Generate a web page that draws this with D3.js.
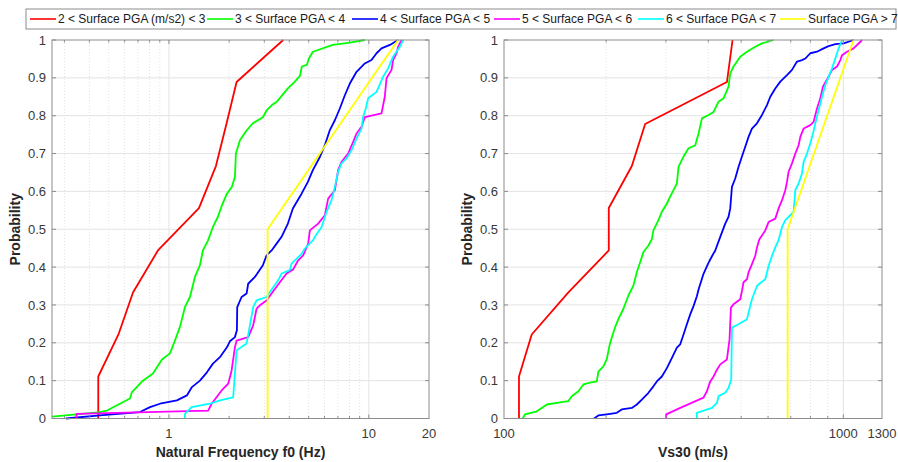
<!DOCTYPE html>
<html>
<head>
<meta charset="utf-8">
<script src="https://cdn.jsdelivr.net/npm/d3@7"></script>
<style>
body { margin: 0; background: #fff; }
text { font-family: "Liberation Sans", Arial, sans-serif; }
</style>
</head>
<body>
<script>
// Legend labels and colours
var seriesNames = ["2 < Surface PGA (m/s2) < 3", "3 < Surface PGA < 4", "4 < Surface PGA < 5",
                   "5 < Surface PGA < 6", "6 < Surface PGA < 7", "Surface PGA > 7"];
var seriesColors = ["#ff0000", "#00ff00", "#0000ff", "#ff00ff", "#00ffff", "#ffff00"];

var probTicks = [0, 0.1, 0.2, 0.3, 0.4, 0.5, 0.6, 0.7, 0.8, 0.9, 1];
var f0Ticks = [1, 10, 20];
var vsTicks = [100, 1000, 1300];

// Natural frequency f0 (Hz) vs cumulative probability
var f0Red = [[0.443,0],[0.443,0.111],[0.559,0.222],[0.661,0.333],[0.881,0.444],[1.413,0.556],
             [1.718,0.667],[1.939,0.778],[2.18,0.889],[3.73,1]];
var f0Green = [[0.26,0.005],[0.442,0.016],[0.49,0.021],[0.638,0.053],[0.653,0.07],[0.741,0.1],
               [0.832,0.119],[0.923,0.156],[1.012,0.172],[1.072,0.206],[1.135,0.242],[1.202,0.294],
               [1.274,0.321],[1.349,0.374],[1.429,0.405],[1.479,0.444],[1.567,0.47],[1.66,0.506],
               [1.758,0.533],[1.841,0.563],[1.95,0.594],[2.065,0.612],[2.138,0.638],[2.163,0.7],
               [2.265,0.735],[2.455,0.762],[2.63,0.78],[2.951,0.796],[3.09,0.815],[3.273,0.828],
               [3.467,0.837],[3.936,0.872],[4.266,0.89],[4.519,0.905],[4.624,0.93],[4.898,0.934],
               [5.012,0.951],[5.248,0.969],[6.607,0.987],[8.035,0.993],[9.55,1]];
var f0Blue = [[0.305,0],[0.452,0.008],[0.716,0.017],[0.804,0.03],[0.902,0.039],[1.096,0.048],
              [1.23,0.061],[1.303,0.083],[1.429,0.1],[1.549,0.122],[1.66,0.145],[1.799,0.162],
              [1.95,0.188],[2.018,0.204],[2.138,0.215],[2.188,0.233],[2.196,0.294],[2.309,0.321],
              [2.446,0.33],[2.491,0.356],[2.692,0.374],[2.951,0.405],[3.08,0.431],[3.262,0.444],
              [3.456,0.462],[3.66,0.48],[3.936,0.515],[4.169,0.555],[4.608,0.594],[4.955,0.625],
              [5.248,0.656],[5.689,0.691],[6.026,0.722],[6.383,0.762],[6.761,0.788],[7.161,0.819],
              [7.586,0.854],[8.035,0.885],[8.68,0.916],[9.55,0.938],[10.31,0.947],[10.93,0.965],
              [11.57,0.978],[12.74,0.987],[14.01,1]];
var f0Magenta = [[0.345,0],[0.345,0.012],[1.572,0.021],[1.635,0.039],[1.835,0.074],[1.98,0.092],
                 [2.059,0.127],[2.138,0.188],[2.18,0.206],[2.491,0.215],[2.639,0.246],[2.744,0.29],
                 [2.851,0.299],[3.08,0.312],[3.323,0.336],[3.589,0.36],[3.877,0.383],[4.183,0.394],
                 [4.431,0.418],[4.694,0.431],[4.973,0.462],[5.07,0.497],[5.578,0.515],[6.026,0.537],
                 [6.259,0.581],[6.761,0.603],[7.022,0.656],[7.303,0.678],[7.88,0.7],[8.348,0.731],
                 [8.68,0.753],[9.194,0.771],[9.55,0.796],[11.57,0.806],[12.02,0.85],[12.26,0.899],
                 [12.99,0.921],[13.23,0.947],[13.76,0.965],[14.01,0.982],[14.57,1]];
var f0Cyan = [[1.202,0],[1.202,0.012],[1.299,0.03],[1.603,0.039],[1.799,0.048],[2.096,0.056],
              [2.18,0.18],[2.446,0.198],[2.639,0.294],[2.744,0.312],[3.08,0.321],[3.199,0.334],
              [3.52,0.365],[3.66,0.383],[4.027,0.392],[4.107,0.409],[4.608,0.435],[4.786,0.449],
              [4.973,0.458],[5.268,0.471],[5.37,0.48],[5.803,0.506],[6.145,0.546],[6.509,0.577],
              [6.761,0.612],[7.022,0.652],[7.303,0.674],[7.736,0.687],[8.194,0.709],[8.68,0.74],
              [9.194,0.766],[9.365,0.797],[9.66,0.819],[9.92,0.846],[10.93,0.863],[11.79,0.903],
              [12.49,0.925],[13.23,0.956],[14.29,0.982],[14.85,1]];
var f0Yellow = [[3.115,0],[3.115,0.5],[14.01,1]];

// Vs30 (m/s) vs cumulative probability
var vsRed = [[110.7,0],[110.7,0.111],[120.7,0.222],[154.8,0.333],[203.6,0.444],[203.6,0.556],
             [238.1,0.667],[260.6,0.778],[453.9,0.889],[471.6,1]];
var vsGreen = [[113.5,0],[115.3,0.011],[124.9,0.019],[129.2,0.028],[133.7,0.037],[143,0.041],
               [154.8,0.046],[158.4,0.059],[165.7,0.072],[171.4,0.09],[179.4,0.095],[187.7,0.098],
               [189.7,0.124],[196.3,0.138],[200.9,0.157],[204.5,0.192],[207.8,0.214],[212.5,0.241],
               [217.4,0.263],[224.9,0.29],[232.6,0.325],[240.6,0.351],[246.3,0.387],[251.9,0.413],
               [257.6,0.44],[266.5,0.457],[272.7,0.474],[275.6,0.497],[285.2,0.524],[291.9,0.546],
               [302,0.568],[308.8,0.586],[323.2,0.621],[326.8,0.665],[338.1,0.692],[349.8,0.714],
               [366.1,0.722],[374.4,0.753],[383.1,0.793],[400.7,0.802],[414.5,0.81],[428.8,0.837],
               [443.6,0.846],[458.9,0.877],[464.2,0.912],[474.7,0.93],[496.8,0.956],[520,0.969],
               [550.1,0.982],[575.8,0.991],[622.7,1]];
var vsBlue = [[184.3,0],[189.7,0.008],[200.9,0.011],[215,0.015],[222.4,0.024],[238.1,0.028],
              [246.3,0.037],[254.8,0.05],[266.5,0.068],[275.6,0.085],[282.1,0.098],[291.9,0.111],
              [302,0.133],[312.5,0.16],[323.2,0.187],[330.6,0.196],[338.1,0.222],[345.9,0.249],
              [353.8,0.275],[361.8,0.297],[370.2,0.323],[374.4,0.341],[386.4,0.38],[399.8,0.41],
              [410.8,0.43],[419.3,0.444],[433.8,0.48],[448.7,0.515],[458.9,0.533],[464.2,0.555],
              [469.6,0.612],[480.2,0.634],[491.2,0.665],[502.6,0.692],[514,0.718],[525.6,0.744],
              [537.9,0.766],[556.5,0.78],[575.8,0.802],[595.6,0.828],[609.2,0.85],[630.1,0.872],
              [651.9,0.89],[682.2,0.907],[705.9,0.921],[730.2,0.943],[755.3,0.947],[772.4,0.951],
              [799.2,0.965],[836.3,0.969],[874.7,0.978],[904.9,0.984],[947.1,0.989],[1002,0.991],
              [1072,1]];
var vsMagenta = [[300.6,0],[300.6,0.011],[330.6,0.028],[387.2,0.055],[396.2,0.072],[405.3,0.098],
                 [414.5,0.111],[424.1,0.129],[433.8,0.143],[453.9,0.156],[462,0.209],[466.4,0.293],
                 [474.7,0.302],[496.8,0.315],[502.6,0.337],[508,0.36],[520,0.368],[525.6,0.386],
                 [537.9,0.408],[550.1,0.43],[556.5,0.452],[565.3,0.473],[588.8,0.497],[602.1,0.519],
                 [630.1,0.528],[644.4,0.555],[659.6,0.577],[674.5,0.603],[682.2,0.625],[689.7,0.652],
                 [705.9,0.674],[721.8,0.7],[738.2,0.722],[746.8,0.744],[763.7,0.766],[799.2,0.775],
                 [817.3,0.784],[836.3,0.819],[855.4,0.846],[871.1,0.877],[904.9,0.903],[926.2,0.921],
                 [958.1,0.93],[979.9,0.947],[991.3,0.96],[1025,0.969],[1072,0.978],[1136,1]];
var vsCyan = [[370.2,0],[370.2,0.015],[410,0.028],[424.1,0.041],[428.8,0.059],[448.7,0.068],
              [458.9,0.081],[467.3,0.103],[469.6,0.24],[491.2,0.249],[520,0.262],[525.6,0.28],
              [537.9,0.315],[556.5,0.35],[569.2,0.358],[588.8,0.368],[602.1,0.403],[616.3,0.43],
              [630.1,0.452],[644.4,0.471],[659.6,0.506],[674.5,0.524],[697.8,0.537],[713.6,0.546],
              [721.8,0.603],[738.2,0.621],[755.3,0.647],[763.7,0.678],[781.5,0.7],[799.2,0.727],
              [814,0.753],[826.8,0.78],[845.5,0.815],[865.5,0.85],[885,0.881],[904.9,0.903],
              [926.2,0.925],[947.1,0.951],[968.5,0.978],[991.3,1]];
var vsYellow = [[685.1,0],[685.1,0.5],[1072,1]];

var f0Series = [f0Red, f0Green, f0Blue, f0Magenta, f0Cyan, f0Yellow];
var vsSeries = [vsRed, vsGreen, vsBlue, vsMagenta, vsCyan, vsYellow];

var svgWidth = 898, svgHeight = 462;
var svg = d3.select("body").append("svg")
            .attr("width", svgWidth)
            .attr("height", svgHeight);

var plotTop = 40, plotBottom = 418.5;
var axisColor = "#8c8c8c", gridColor = "#e3e3e3", textColor = "#383838";

function minorValues(domain) {
    var out = [];
    var lo = Math.floor(Math.log10(domain[0])), hi = Math.ceil(Math.log10(domain[1]));
    for (var e = lo; e <= hi; e++) {
        for (var m = 1; m <= 9; m++) {
            var v = m * Math.pow(10, e);
            if (v > domain[0] * 1.0001 && v < domain[1] * 0.9999) out.push(v);
        }
    }
    return out;
}

function isDecade(v) {
    var l = Math.log10(v);
    return Math.abs(l - Math.round(l)) < 1e-6;
}

function drawPanel(left, right, domain, ticks, series, xTitle, yTitleX) {
    var x = d3.scaleLog().domain(domain).range([left, right]);
    var y = d3.scaleLinear().domain([0, 1]).range([plotBottom, plotTop]);
    var g = svg.append("g");
    var minors = minorValues(domain);

    // grid
    g.selectAll(".minor").data(minors.filter(v => !isDecade(v)))
     .enter().append("line")
     .attr("x1", d => x(d)).attr("x2", d => x(d)).attr("y1", plotTop).attr("y2", plotBottom)
     .attr("stroke", gridColor).attr("stroke-dasharray", "1,2");
    g.selectAll(".major").data(minors.filter(isDecade))
     .enter().append("line")
     .attr("x1", d => x(d)).attr("x2", d => x(d)).attr("y1", plotTop).attr("y2", plotBottom)
     .attr("stroke", gridColor);
    g.selectAll(".ygrid").data(probTicks.slice(1, -1))
     .enter().append("line")
     .attr("x1", left).attr("x2", right).attr("y1", d => y(d)).attr("y2", d => y(d))
     .attr("stroke", gridColor);

    // curves
    var line = d3.line().x(d => x(d[0])).y(d => y(d[1]));
    series.forEach(function(s, i) {
        g.append("path").datum(s)
         .attr("d", line)
         .attr("fill", "none")
         .attr("stroke", seriesColors[i])
         .attr("stroke-width", 1.8)
         .attr("stroke-linejoin", "round");
    });

    // box
    g.append("rect").attr("x", left).attr("y", plotTop)
     .attr("width", right - left).attr("height", plotBottom - plotTop)
     .attr("fill", "none").attr("stroke", axisColor).attr("stroke-width", 1);

    // inward ticks
    minors.forEach(function(v) {
        var len = isDecade(v) ? 4 : 2.5;
        g.append("line").attr("x1", x(v)).attr("x2", x(v)).attr("y1", plotBottom).attr("y2", plotBottom - len)
         .attr("stroke", axisColor);
        g.append("line").attr("x1", x(v)).attr("x2", x(v)).attr("y1", plotTop).attr("y2", plotTop + len)
         .attr("stroke", axisColor);
    });
    probTicks.forEach(function(p) {
        g.append("line").attr("x1", left).attr("x2", left + 4).attr("y1", y(p)).attr("y2", y(p))
         .attr("stroke", axisColor);
        g.append("line").attr("x1", right).attr("x2", right - 4).attr("y1", y(p)).attr("y2", y(p))
         .attr("stroke", axisColor);
    });

    // tick labels
    g.selectAll(".ylab").data(probTicks).enter().append("text")
     .attr("x", left - 6).attr("y", d => y(d)).attr("dy", "0.35em")
     .attr("text-anchor", "end").attr("font-size", 13).attr("fill", textColor)
     .text(d => d3.format("~g")(d));
    g.selectAll(".xlab").data(ticks).enter().append("text")
     .attr("x", d => x(d)).attr("y", plotBottom + 19)
     .attr("text-anchor", "middle").attr("font-size", 13).attr("fill", textColor)
     .text(d => d);

    // axis titles
    g.append("text").attr("x", (left + right) / 2).attr("y", plotBottom + 38)
     .attr("text-anchor", "middle").attr("font-size", 14).attr("font-weight", "bold")
     .attr("fill", "#262626").text(xTitle);
    g.append("text").attr("transform", `translate(${yTitleX}, ${(plotTop + plotBottom) / 2}) rotate(-90)`)
     .attr("text-anchor", "middle").attr("font-size", 14).attr("font-weight", "bold")
     .attr("fill", "#262626").text("Probability");
}

drawPanel(52, 429, [0.26, 20], f0Ticks, f0Series, "Natural Frequency f0 (Hz)", 20);
drawPanel(504, 882, [100, 1300], vsTicks, vsSeries, "Vs30 (m/s)", 472);

// Legend
var legendX = [30, 207, 352, 494, 638, 780];
var legend = svg.append("g");
legend.append("rect").attr("x", 26).attr("y", 9).attr("width", 870).attr("height", 20)
      .attr("fill", "#fff").attr("stroke", "#8c8c8c");
seriesNames.forEach(function(name, i) {
    legend.append("line").attr("x1", legendX[i]).attr("x2", legendX[i] + 26)
          .attr("y1", 19).attr("y2", 19)
          .attr("stroke", seriesColors[i]).attr("stroke-width", 1.6);
    legend.append("text").attr("x", legendX[i] + 28).attr("y", 19).attr("dy", "0.35em")
          .attr("font-size", 12).attr("fill", "#1a1a1a").text(name);
});
</script>
</body>
</html>
